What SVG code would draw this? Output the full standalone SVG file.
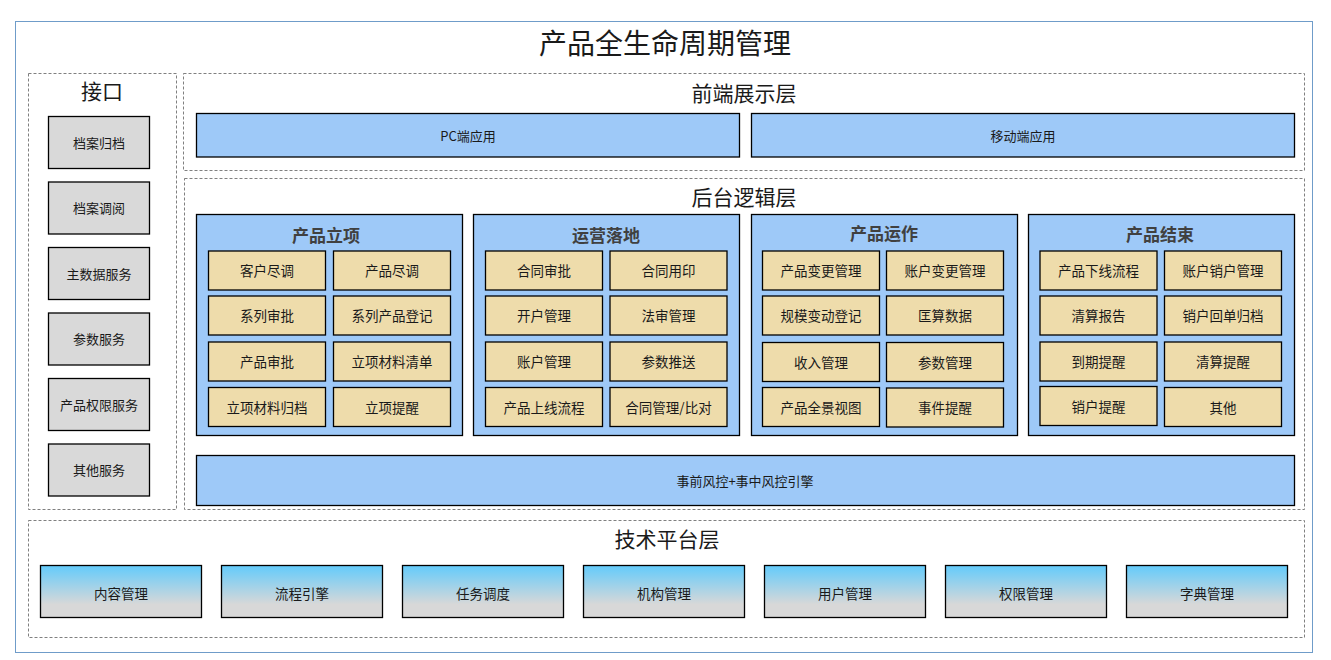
<svg xmlns="http://www.w3.org/2000/svg" width="1331" height="660" viewBox="0 0 1331 660">
<defs>
<linearGradient id="techGrad" x1="0" y1="0" x2="0" y2="1">
<stop offset="0" stop-color="#63cbfb"/>
<stop offset="0.75" stop-color="#d8d8d8"/>
<stop offset="1" stop-color="#d8d8d8"/>
</linearGradient>
<style>
text{font-family:"Noto Sans CJK SC","Liberation Sans",sans-serif;text-anchor:middle;dominant-baseline:central;fill:#1a1a1a}
.frame{fill:#fff;stroke:#6f9cc9;stroke-width:1}
.dash{fill:none;stroke:#808080;stroke-width:1;stroke-dasharray:3 2}
.title{font-size:28px}
.layer{font-size:21px}
.if{fill:#d9d9d9;stroke:#000;stroke-width:1.3}
.blue{fill:#9ec9f8;stroke:#000;stroke-width:1.3}
.item{fill:#eedcab;stroke:#000;stroke-width:1.3}
.tech{fill:url(#techGrad);stroke:#000;stroke-width:1.3}
.gt{font-size:17px;font-weight:bold;fill:#404040}
.lb{font-size:13.5px}
.sm{font-size:13px}
</style>
</defs>
<rect class="frame" x="15.5" y="21.5" width="1297" height="631"/>
<text class="title" x="665" y="42">产品全生命周期管理</text>

<g id="interface">
<rect class="dash" x="28.5" y="73.5" width="148" height="436"/>
<text class="layer" x="102" y="90">接口</text>
<g id="if1"><rect class="if" x="48.5" y="116.5" width="101" height="52"/><text class="sm" x="99" y="142">档案归档</text></g>
<g id="if2"><rect class="if" x="48.5" y="182" width="101" height="52"/><text class="sm" x="99" y="207.5">档案调阅</text></g>
<g id="if3"><rect class="if" x="48.5" y="247.5" width="101" height="52"/><text class="sm" x="99" y="273">主数据服务</text></g>
<g id="if4"><rect class="if" x="48.5" y="313" width="101" height="52"/><text class="sm" x="99" y="338.5">参数服务</text></g>
<g id="if5"><rect class="if" x="48.5" y="378.5" width="101" height="52"/><text class="sm" x="99" y="404">产品权限服务</text></g>
<g id="if6"><rect class="if" x="48.5" y="444" width="101" height="52"/><text class="sm" x="99" y="469.5">其他服务</text></g>
</g>

<g id="frontend">
<rect class="dash" x="183.5" y="73.5" width="1121" height="97"/>
<text class="layer" x="744" y="92">前端展示层</text>
<g id="pc"><rect class="blue" x="196.5" y="113.5" width="543" height="43.5"/><text class="sm" x="468" y="135">PC端应用</text></g>
<g id="mobile"><rect class="blue" x="751.5" y="113.5" width="543" height="43.5"/><text class="sm" x="1023" y="135">移动端应用</text></g>
</g>

<g id="backend">
<rect class="dash" x="184.5" y="178.5" width="1120" height="331"/>
<text class="layer" x="744" y="196">后台逻辑层</text>

<g id="g1">
<rect class="blue" x="196.5" y="214.5" width="266" height="221"/>
<text class="gt" x="326" y="234">产品立项</text>
<rect class="item" x="208.5" y="251" width="117" height="39"/><text class="lb" x="267" y="270">客户尽调</text>
<rect class="item" x="333.5" y="251" width="117" height="39"/><text class="lb" x="392" y="270">产品尽调</text>
<rect class="item" x="208.5" y="296" width="117" height="39"/><text class="lb" x="267" y="315">系列审批</text>
<rect class="item" x="333.5" y="296" width="117" height="39"/><text class="lb" x="392" y="315">系列产品登记</text>
<rect class="item" x="208.5" y="342" width="117" height="39"/><text class="lb" x="267" y="361">产品审批</text>
<rect class="item" x="333.5" y="342" width="117" height="39"/><text class="lb" x="392" y="361">立项材料清单</text>
<rect class="item" x="208.5" y="387.5" width="117" height="39"/><text class="lb" x="267" y="406.5">立项材料归档</text>
<rect class="item" x="333.5" y="387.5" width="117" height="39"/><text class="lb" x="392" y="406.5">立项提醒</text>
</g>

<g id="g2">
<rect class="blue" x="473.5" y="214.5" width="266" height="221"/>
<text class="gt" x="606" y="234">运营落地</text>
<rect class="item" x="485.5" y="251" width="117" height="39"/><text class="lb" x="544" y="270">合同审批</text>
<rect class="item" x="610" y="251" width="117" height="39"/><text class="lb" x="668.5" y="270">合同用印</text>
<rect class="item" x="485.5" y="296" width="117" height="39"/><text class="lb" x="544" y="315">开户管理</text>
<rect class="item" x="610" y="296" width="117" height="39"/><text class="lb" x="668.5" y="315">法审管理</text>
<rect class="item" x="485.5" y="342" width="117" height="39"/><text class="lb" x="544" y="361">账户管理</text>
<rect class="item" x="610" y="342" width="117" height="39"/><text class="lb" x="668.5" y="361">参数推送</text>
<rect class="item" x="485.5" y="387.5" width="117" height="39"/><text class="lb" x="544" y="406.5">产品上线流程</text>
<rect class="item" x="610" y="387.5" width="117" height="39"/><text class="lb" x="668.5" y="406.5">合同管理/比对</text>
</g>

<g id="g3">
<rect class="blue" x="751.5" y="214.5" width="266" height="221"/>
<text class="gt" x="884" y="232">产品运作</text>
<rect class="item" x="762.5" y="251" width="117" height="39"/><text class="lb" x="821" y="270">产品变更管理</text>
<rect class="item" x="886.5" y="251" width="117" height="39"/><text class="lb" x="945" y="270">账户变更管理</text>
<rect class="item" x="762.5" y="296" width="117" height="39"/><text class="lb" x="821" y="315">规模变动登记</text>
<rect class="item" x="886.5" y="296" width="117" height="39"/><text class="lb" x="945" y="315">匡算数据</text>
<rect class="item" x="762.5" y="342.5" width="117" height="39"/><text class="lb" x="821" y="361.5">收入管理</text>
<rect class="item" x="886.5" y="342.5" width="117" height="39"/><text class="lb" x="945" y="361.5">参数管理</text>
<rect class="item" x="762.5" y="387.5" width="117" height="39"/><text class="lb" x="821" y="406.5">产品全景视图</text>
<rect class="item" x="886.5" y="388" width="117" height="39"/><text class="lb" x="945" y="407">事件提醒</text>
</g>

<g id="g4">
<rect class="blue" x="1028.5" y="214.5" width="266" height="221"/>
<text class="gt" x="1160" y="233">产品结束</text>
<rect class="item" x="1040" y="251" width="117" height="39"/><text class="lb" x="1098.5" y="270">产品下线流程</text>
<rect class="item" x="1164.5" y="251" width="117" height="39"/><text class="lb" x="1223" y="270">账户销户管理</text>
<rect class="item" x="1040" y="296" width="117" height="39"/><text class="lb" x="1098.5" y="315">清算报告</text>
<rect class="item" x="1164.5" y="296" width="117" height="39"/><text class="lb" x="1223" y="315">销户回单归档</text>
<rect class="item" x="1040" y="342" width="117" height="39"/><text class="lb" x="1098.5" y="361">到期提醒</text>
<rect class="item" x="1164.5" y="342" width="117" height="39"/><text class="lb" x="1223" y="361">清算提醒</text>
<rect class="item" x="1040" y="386.5" width="117" height="39"/><text class="lb" x="1098.5" y="405.5">销户提醒</text>
<rect class="item" x="1164.5" y="387.5" width="117" height="39"/><text class="lb" x="1223" y="406.5">其他</text>
</g>

<g id="risk"><rect class="blue" x="196.5" y="455.5" width="1098" height="50"/><text class="sm" x="745" y="480">事前风控+事中风控引擎</text></g>
</g>

<g id="tech">
<rect class="dash" x="28.5" y="520.5" width="1276" height="117"/>
<text class="layer" x="667" y="538">技术平台层</text>
<g id="t1"><rect class="tech" x="40.5" y="565.5" width="161" height="52"/><text class="lb" x="121" y="592.5">内容管理</text></g>
<g id="t2"><rect class="tech" x="221.5" y="565.5" width="161" height="52"/><text class="lb" x="302" y="592.5">流程引擎</text></g>
<g id="t3"><rect class="tech" x="402.5" y="565.5" width="161" height="52"/><text class="lb" x="483" y="592.5">任务调度</text></g>
<g id="t4"><rect class="tech" x="583.5" y="565.5" width="161" height="52"/><text class="lb" x="664" y="592.5">机构管理</text></g>
<g id="t5"><rect class="tech" x="764.5" y="565.5" width="161" height="52"/><text class="lb" x="845" y="592.5">用户管理</text></g>
<g id="t6"><rect class="tech" x="945.5" y="565.5" width="161" height="52"/><text class="lb" x="1026" y="592.5">权限管理</text></g>
<g id="t7"><rect class="tech" x="1126.5" y="565.5" width="161" height="52"/><text class="lb" x="1207" y="592.5">字典管理</text></g>
</g>

<g id="connectors"></g>
</svg>
